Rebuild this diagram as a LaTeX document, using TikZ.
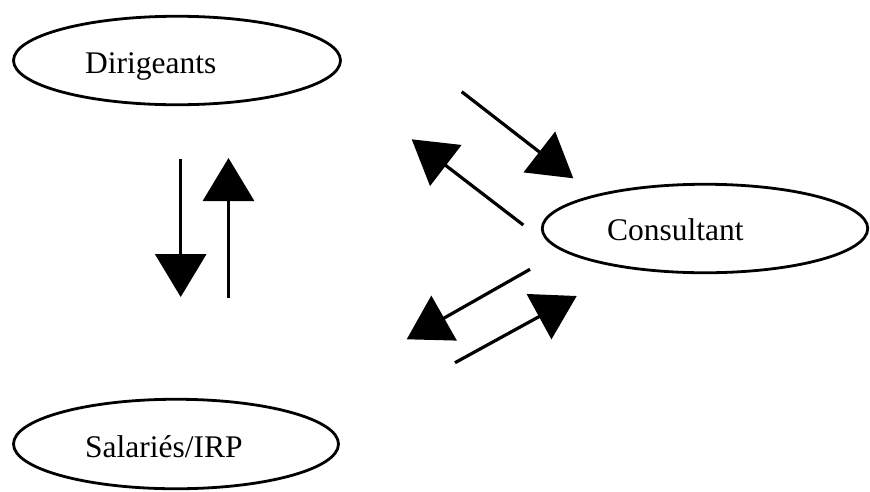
\documentclass[tikz,border=0pt]{standalone}
\usepackage{fontspec}
\setmainfont{Liberation Serif}
\usetikzlibrary{shapes.geometric,arrows.meta}
\begin{document}
\begin{tikzpicture}[x=1pt,y=-1pt,
  oval/.style={draw,line width=2.8pt,ellipse,inner sep=0pt},
  lbl/.style={anchor=base west,inner sep=0pt,font=\fontsize{31.5}{36}\selectfont},
  bigarrow/.style={line width=3.2pt,-{Triangle[length=43pt,width=51pt]}}]
\useasboundingbox (0,0) rectangle (870,491);
\node[oval,minimum width=327pt,minimum height=88.5pt] (dir) at (177,60.5) {};
\node[oval,minimum width=325.5pt,minimum height=88.5pt] (con) at (705,228.5) {};
\node[oval,minimum width=325pt,minimum height=89.5pt] (sal) at (176,444) {};
\node[lbl] (dirt) at (85,73) {Dirigeants};
\node[lbl] (cont) at (607,240) {Consultant};
\node[lbl] (salt) at (85,457) {Salariés/IRP};
\coordinate (a1s) at (180.7,159); \coordinate (a1e) at (180.7,297);
\coordinate (a2s) at (228.5,298); \coordinate (a2e) at (228.5,158);
\coordinate (a3s) at (461.7,91.7); \coordinate (a3e) at (573.3,178.3);
\coordinate (a4s) at (523.3,225); \coordinate (a4e) at (411.7,139.3);
\coordinate (a5s) at (530,269.3); \coordinate (a5e) at (406.7,339.3);
\coordinate (a6s) at (455,362.7); \coordinate (a6e) at (576.7,296);
\draw[bigarrow] (a1s) -- (a1e);
\draw[bigarrow] (a2s) -- (a2e);
\draw[bigarrow] (a3s) -- (a3e);
\draw[bigarrow] (a4s) -- (a4e);
\draw[bigarrow] (a5s) -- (a5e);
\draw[bigarrow] (a6s) -- (a6e);
\end{tikzpicture}
\end{document}
